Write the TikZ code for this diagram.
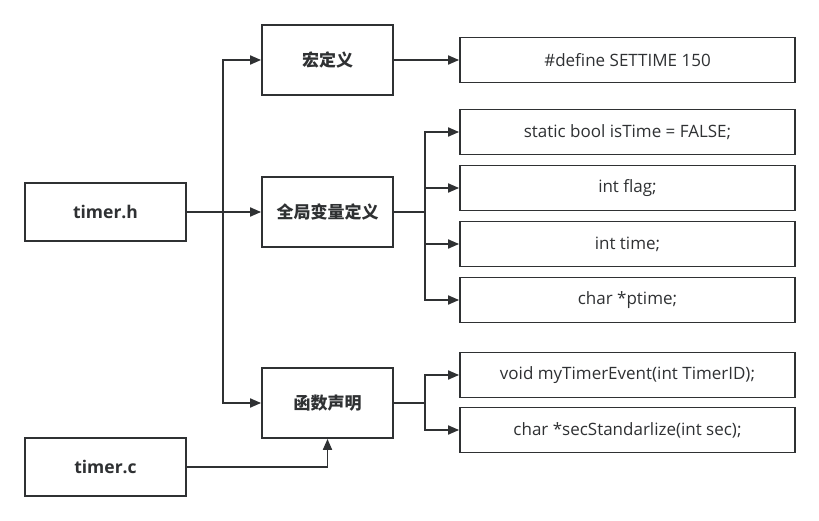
\documentclass[tikz,border=0pt]{standalone}
\usepackage{fontspec}
\setmainfont{Open Sans}
\newfontfamily\cjk{Noto Sans CJK SC}
\usepackage{tikz}
\usetikzlibrary{arrows.meta,positioning}
\definecolor{ink}{HTML}{2F3133}
\tikzset{
  box/.style={draw=ink,line width=1.8pt,fill=white,minimum width=161pt,minimum height=58pt,
    font=\fontsize{17.5}{20}\selectfont\bfseries,text=ink},
  mid/.style={draw=ink,line width=1.8pt,fill=white,minimum width=131pt,minimum height=70pt,
    font=\fontsize{17}{20}\selectfont\cjk\bfseries,text=ink},
  code/.style={draw=ink,line width=1.8pt,fill=white,minimum width=335pt,minimum height=45pt,
    font=\fontsize{17}{20}\selectfont,text=ink},
  arr/.style={ink,line width=1.8pt,-{Triangle[length=11pt,width=9pt]}},
  ln/.style={ink,line width=1.8pt},
}
\begin{document}
\begin{tikzpicture}[x=1pt,y=-1pt]
  \useasboundingbox (0,0) rectangle (819,521);
  % ---------- sources ----------
  \node[box] (th) at (105.5,212) {timer.h};
  \node[box] (tc) at (105.5,467) {timer.c};
  % ---------- sections ----------
  \node[mid] (hong) at (327.5,60) {宏定义};
  \node[mid] (glob) at (327.5,212) {全局变量定义};
  \node[mid] (func) at (327.5,403) {函数声明};
  % ---------- code lines ----------
  \node[code] (def)   at (627.5,60)  {\#define SETTIME 150};
  \node[code] (isT)   at (627.5,132) {static bool isTime = FALSE;};
  \node[code] (flag)  at (627.5,188) {int flag;};
  \node[code] (time)  at (627.5,244) {int time;};
  \node[code] (ptime) at (627.5,300) {char *ptime;};
  \node[code] (evt)   at (627.5,375) {void myTimerEvent(int TimerID);};
  \node[code] (sec)   at (627.5,430) {char *secStandarlize(int sec);};
  % ---------- connectors ----------
  \coordinate (hsplit) at (223,212);
  \coordinate (gsplit) at (425,212);
  \coordinate (fsplit) at (425,403);
  \draw[arr] (th.east) -- (glob.west);
  \draw[arr] (hsplit) |- (hong.west);
  \draw[arr] (hsplit) |- (func.west);
  \draw[arr] (tc.east) -| (func.south);
  \draw[arr] (hong.east) -- (def.west);
  \draw[ln] (glob.east) -- (gsplit);
  \foreach \n in {isT,flag,time,ptime}
    \draw[arr] (gsplit) |- (\n.west);
  \draw[ln] (func.east) -- (fsplit);
  \foreach \n in {evt,sec}
    \draw[arr] (fsplit) |- (\n.west);
\end{tikzpicture}
\end{document}
